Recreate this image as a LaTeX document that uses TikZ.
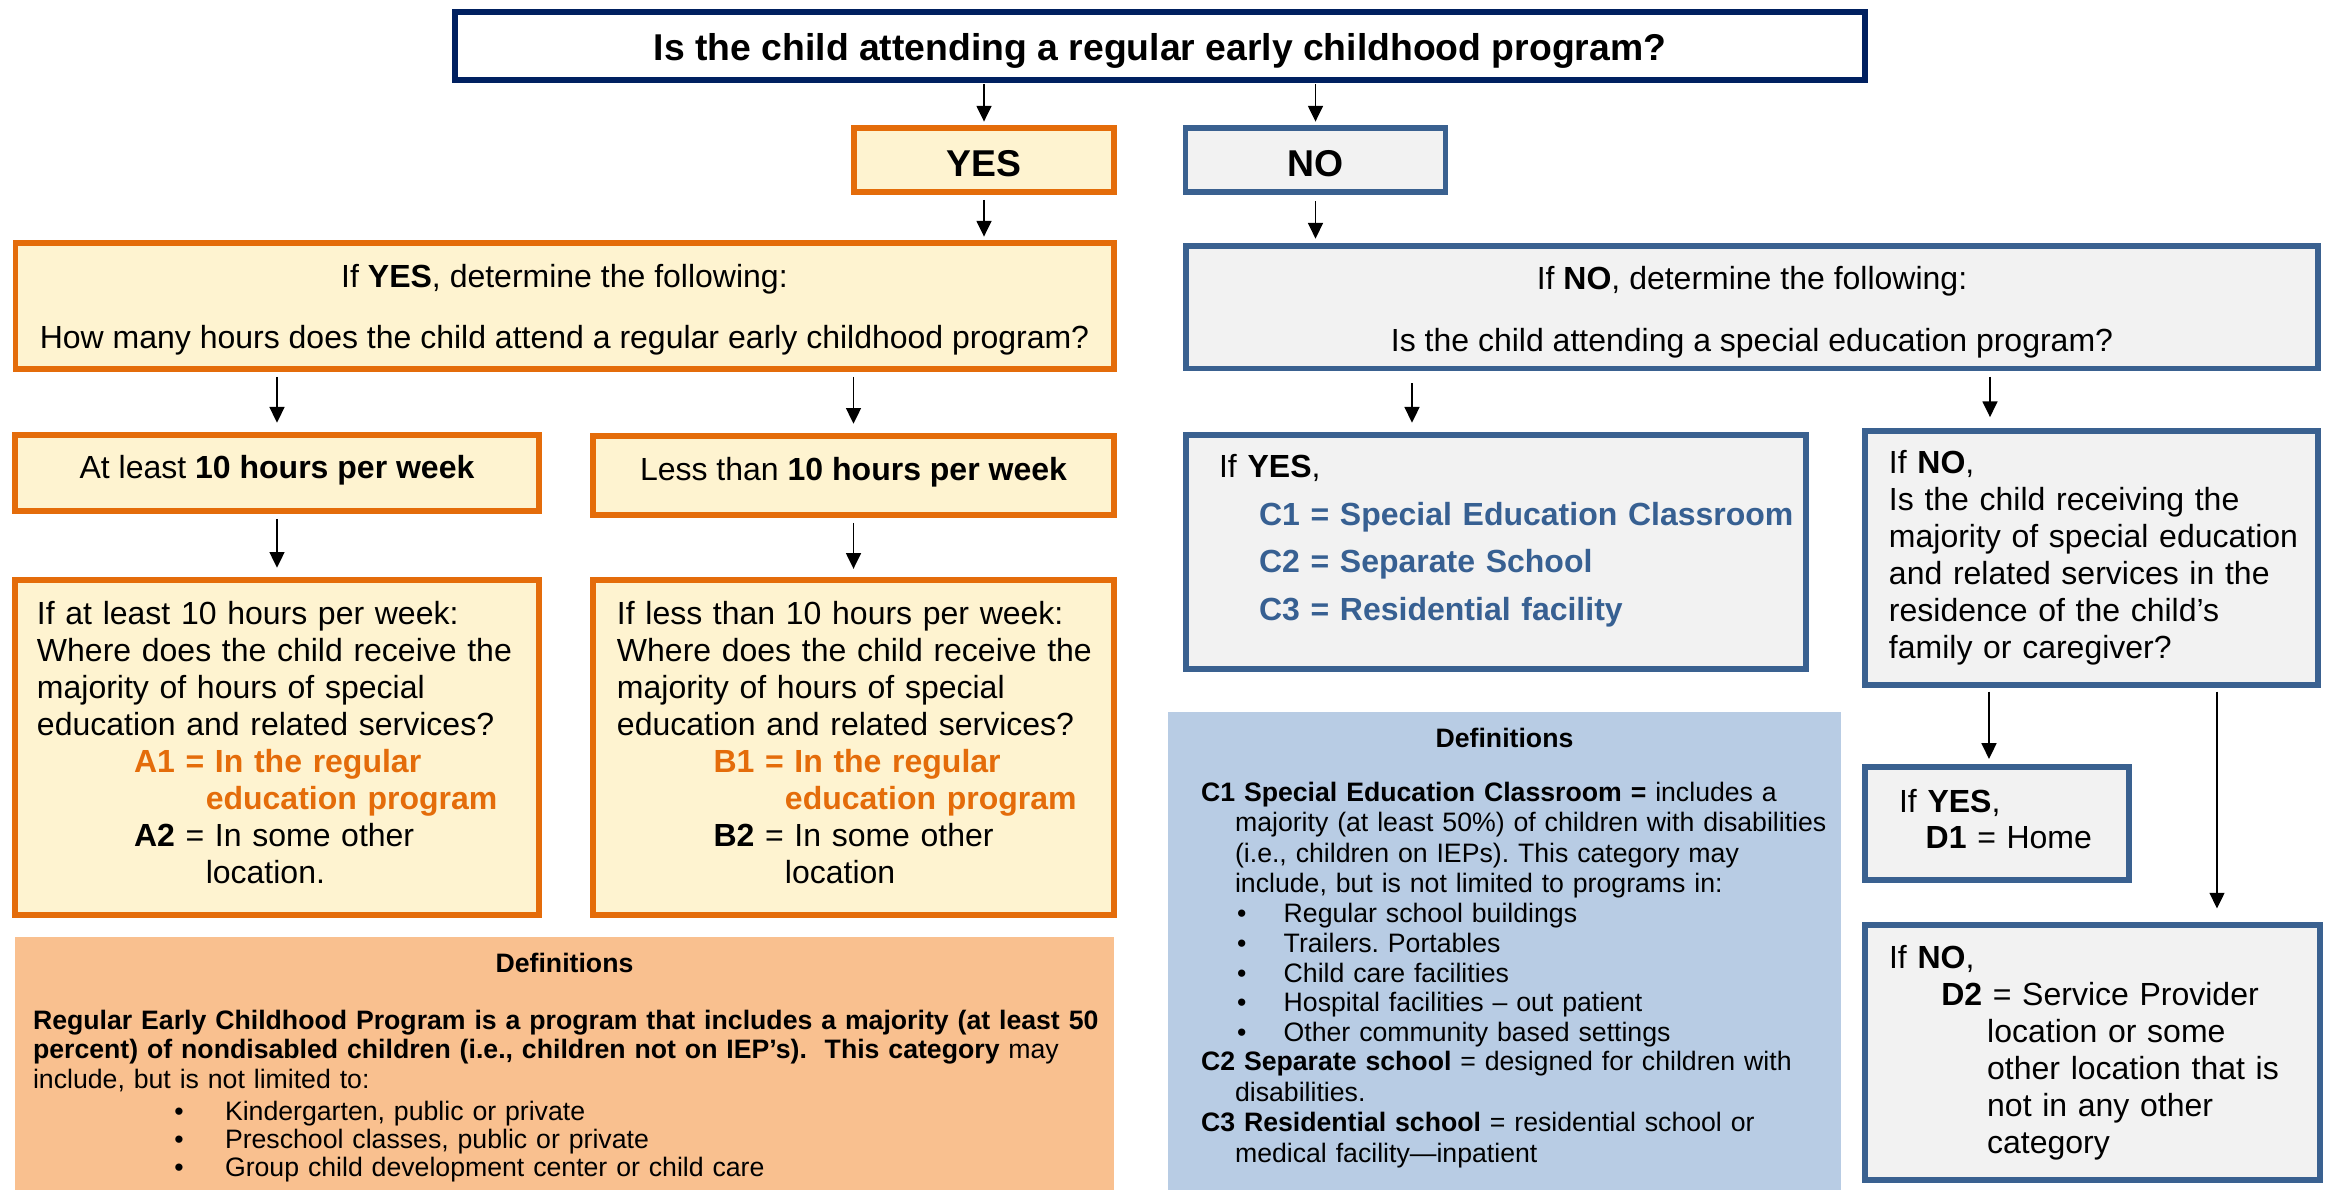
\documentclass[tikz,border=0pt]{standalone}
\usepackage{fontspec}
\setmainfont{Liberation Sans}
\usetikzlibrary{arrows.meta}
\frenchspacing

\definecolor{navyline}{HTML}{002060}
\definecolor{orangeline}{HTML}{E46C0A}
\definecolor{creamfill}{HTML}{FEF3D0}
\definecolor{blueline}{HTML}{3A6190}
\definecolor{grayfill}{HTML}{F2F2F2}
\definecolor{peachfill}{HTML}{F9C08F}
\definecolor{bluefill}{HTML}{B8CCE4}
\definecolor{bluetext}{HTML}{376092}

\newcommand{\lbul}[1]{\hspace*{53pt}\makebox[19pt][l]{\textbullet}#1}
\newcommand{\rbul}[1]{\hspace*{13.5pt}\makebox[17.5pt][l]{\textbullet}#1}

\tikzset{
	topbox/.style={shape=rectangle, draw=navyline, line width=2.25pt, fill=white, inner sep=0pt, font=\fontsize{14}{16}\selectfont\bfseries},
	yesbox/.style={shape=rectangle, draw=orangeline, line width=2pt, fill=creamfill, inner sep=0pt},
	nobox/.style={shape=rectangle, draw=blueline, line width=2pt, fill=grayfill, inner sep=0pt},
	defbox/.style={shape=rectangle, inner sep=0pt, align=left, font=\fontsize{10}{11}\selectfont},
	arr/.style={-{Triangle[length=5.9pt,width=5.6pt]}, line width=0.63pt, shorten <=1.5pt, shorten >=1.5pt}
}

\begin{document}
\begin{tikzpicture}[x=0.375pt, y=-0.375pt, font=\fontsize{12}{13.9}\selectfont]
	\useasboundingbox (0,0) rectangle (2336,1190);

	\node[topbox, minimum width=529pt, minimum height=25.5pt, text height=13.5pt, text depth=2.9pt] (quest) at (1160,46) {Is the child attending a regular early childhood program?};
	\node[yesbox, minimum width=97.5pt, minimum height=24pt, text height=12.2pt, text depth=0pt, font=\fontsize{14}{16}\selectfont\bfseries] (yes) at (984,160) {YES};
	\node[nobox, minimum width=97.5pt, minimum height=24pt, text height=12.2pt, text depth=0pt, font=\fontsize{14}{16}\selectfont\bfseries] (no) at (1315.5,160) {NO};

	\node[yesbox, minimum width=412pt, minimum height=47.25pt, align=center] (yesdet) at (564.5,306) {\mbox{}\\[-2.4pt]If \textbf{YES}, determine the following:\\[9.3pt]How many hours does the child attend a regular early childhood program?};
	\node[nobox, minimum width=424.5pt, minimum height=46pt, align=center] (nodet) at (1752,307.5) {\mbox{}\\[-1.8pt]If \textbf{NO}, determine the following:\\[9.3pt]Is the child attending a special education program?};

	\node[yesbox, minimum width=196.5pt, minimum height=28.5pt, text height=8.75pt, text depth=4.7pt] (atleast) at (277,473) {At least \textbf{10 hours per week}};
	\node[yesbox, minimum width=195.4pt, minimum height=29.6pt, text height=8.75pt, text depth=4.7pt] (lessthan) at (853.5,475.5) {Less than \textbf{10 hours per week}};

	\node[yesbox, text width=180pt, inner xsep=8.25pt, minimum height=125.6pt, align=left] (abox) at (277,747.5) {If at least 10 hours per week:\\
		\mbox{Where does the child receive the}\\
		majority of hours of special\\
		\mbox{education and related services?}\\
		\hspace*{36.4pt}{\color{orangeline}\bfseries A1 = In the regular}\\
		\hspace*{63.3pt}{\color{orangeline}\bfseries education program}\\
		\hspace*{36.4pt}\textbf{A2} = In some other\\
		\hspace*{63.3pt}location.\\[-9.9pt]
		\mbox{}};
	\node[yesbox, text width=177.4pt, inner xsep=9pt, minimum height=125.6pt, align=left] (bbox) at (853.5,747.5) {If less than 10 hours per week:\\
		\mbox{Where does the child receive the}\\
		majority of hours of special\\
		\mbox{education and related services?}\\
		\hspace*{36.2pt}{\color{orangeline}\bfseries B1 = In the regular}\\
		\hspace*{63pt}\mbox{\color{orangeline}\bfseries education program}\\
		\hspace*{36.2pt}\textbf{B2} = In some other\\
		\hspace*{63pt}location\\[-9.9pt]
		\mbox{}};

	\node[defbox, fill=peachfill, text width=398.6pt, inner xsep=6.75pt, minimum height=95pt] (ldefs) at (564.5,1063.5) {\mbox{}\\[-0.6pt]
		\makebox[\linewidth]{\textbf{Definitions}}\\[10.4pt]
		\mbox{\textbf{Regular Early Childhood Program is a program that includes a majority (at least 50}}\\
		\mbox{\textbf{percent) of nondisabled children (i.e., children not on IEP’s).\ \ This category} may}\\
		include, but is not limited to:\\[1pt]
		\lbul{Kindergarten, public or private}\\[-0.4pt]
		\lbul{Preschool classes, public or private}\\[-0.4pt]
		\lbul{Group child development center or child care}};

	\node[nobox, text width=207.7pt, inner xsep=12.4pt, minimum height=87.75pt, align=left, font=\fontsize{12}{17.9}\selectfont] (cbox) at (1496,552) {If \textbf{YES},\\
		\hspace*{15pt}\mbox{\color{bluetext}\bfseries C1 = Special Education Classroom}\\
		\hspace*{15pt}{\color{bluetext}\bfseries C2 = Separate School}\\
		\hspace*{15pt}{\color{bluetext}\bfseries C3 = Residential facility}\\[-7pt]
		\mbox{}};
	\node[nobox, text width=151.9pt, inner xsep=9pt, minimum height=95.25pt, align=left] (ifno) at (2091.5,558) {If \textbf{NO},\\
		Is the child receiving the\\
		\mbox{majority of special education}\\
		\mbox{and related services in the}\\
		residence of the child’s\\
		family or caregiver?};

	\node[defbox, fill=bluefill, text width=227.6pt, inner xsep=12.4pt, minimum height=179.25pt, font=\fontsize{10}{11.4}\selectfont] (rdefs) at (1504.5,951) {\makebox[\linewidth]{\textbf{Definitions}}\\[8.8pt]
		\mbox{\textbf{C1 Special Education Classroom =} includes a}\\
		\hspace*{12.75pt}\mbox{majority (at least 50\%) of children with disabilities}\\
		\hspace*{12.75pt}\mbox{(i.e., children on IEPs). This category may}\\
		\hspace*{12.75pt}\mbox{include, but is not limited to programs in:}\\
		\rbul{Regular school buildings}\\[-0.3pt]
		\rbul{Trailers. Portables}\\[-0.3pt]
		\rbul{Child care facilities}\\[-0.3pt]
		\rbul{Hospital facilities – out patient}\\[-0.3pt]
		\rbul{Other community based settings}\\[-0.3pt]
		\mbox{\textbf{C2 Separate school} = designed for children with}\\
		\hspace*{12.75pt}disabilities.\\
		\mbox{\textbf{C3 Residential school} = residential school or}\\
		\hspace*{12.75pt}medical facility—inpatient\\[-7pt]
		\mbox{}};

	\node[nobox, text width=73.5pt, inner xsep=12.75pt, minimum height=42.4pt, align=left] (dyes) at (1997,823.5) {If \textbf{YES},\\[-0.5pt]
		\hspace*{10pt}\mbox{\textbf{D1} = Home}\\[-10.5pt]
		\mbox{}};
	\node[nobox, text width=152.6pt, inner xsep=9pt, minimum height=95.6pt, align=left] (dno) at (2092.5,1052.5) {If \textbf{NO},\\
		\hspace*{19.6pt}\textbf{D2} = Service Provider\\
		\hspace*{36.8pt}location or some\\
		\hspace*{36.8pt}\mbox{other location that is}\\
		\hspace*{36.8pt}not in any other\\
		\hspace*{36.8pt}category};

	\coordinate (cx) at (1412,0);
	\coordinate (ifx) at (1990,0);
	\coordinate (dax) at (1989,0);
	\coordinate (dbx) at (2217,0);

	\draw[arr, shorten <=0.5pt, shorten >=1.4pt] (yes |- quest.south) -- (yes.north);
	\draw[arr, shorten <=0.5pt, shorten >=1.4pt] (no |- quest.south) -- (no.north);
	\draw[arr, shorten <=2pt, shorten >=1.4pt] (yes.south) -- (yesdet.north -| yes);
	\draw[arr, shorten <=2.5pt, shorten >=1.8pt] (no.south) -- (nodet.north -| no);
	\draw[arr, shorten <=2pt, shorten >=3.6pt] (yesdet.south -| atleast) -- (atleast.north);
	\draw[arr, shorten <=2pt, shorten >=3.6pt] (yesdet.south -| lessthan) -- (lessthan.north);
	\draw[arr, shorten <=2pt, shorten >=3.6pt] (atleast.south) -- (abox.north);
	\draw[arr, shorten <=2pt, shorten >=3.2pt] (lessthan.south) -- (bbox.north);
	\draw[arr, shorten <=4.5pt, shorten >=3.6pt] (nodet.south -| cx) -- (cbox.north -| cx);
	\draw[arr, shorten <=2pt, shorten >=4.2pt] (nodet.south -| ifx) -- (ifno.north -| ifx);
	\draw[arr, shorten <=1.5pt, shorten >=2pt] (ifno.south -| dax) -- (dyes.north -| dax);
	\draw[arr, shorten <=1.5pt, shorten >=5.2pt] (ifno.south -| dbx) -- (dno.north -| dbx);
\end{tikzpicture}
\end{document}
